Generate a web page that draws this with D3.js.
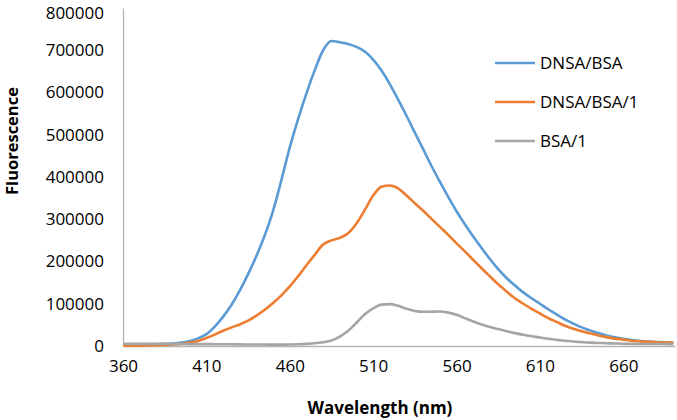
<!DOCTYPE html>
<html>
<head>
<meta charset="utf-8">
<script src="https://cdn.jsdelivr.net/npm/d3@7"></script>
<style>
  html, body { margin: 0; padding: 0; background: #fff; }
  svg { display: block; }
  text { font-family: "Open Sans", "Liberation Sans", sans-serif; fill: #000; }
</style>
</head>
<body>
<svg id="chart" width="677" height="420"></svg>
<script>
const wavelengths = [360,365,370,375,380,385,390,395,400,405,410,415,420,425,430,435,440,445,450,455,
  460,465,470,475,480,485,490,495,500,505,510,515,520,525,530,535,540,545,550,555,
  560,565,570,575,580,585,590,595,600,605,610,615,620,625,630,635,640,645,650,655,
  660,665,670,675,680,685,690];

const dnsaBsa = [4000,4000,4000,4000,4500,5000,6000,8000,12000,18000,28000,46000,69000,97000,131000,170000,213000,262000,320000,393000,
  470000,537000,598000,653000,700000,722000,719000,715000,708000,697000,678000,652000,620000,583000,545000,505000,466000,426000,389000,353000,
  319000,288000,259000,232000,206000,182000,161000,143000,127000,113000,100000,87000,75000,63000,53000,44000,37000,30500,25000,20500,
  17000,14200,12000,10500,9500,8500,7800];

const dnsaBsa1 = [1000,1000,1000,1500,2000,2500,3500,5000,8000,12000,19000,27000,36000,44000,51000,60000,72000,86000,102000,120000,
  141000,165000,191000,216000,240000,250000,256000,267000,290000,322000,356000,377000,380000,373000,356000,338000,320000,301000,282000,263000,
  243000,224000,204000,184000,165000,146000,129000,113000,100000,88000,77000,66000,57000,48000,41000,35000,30000,25000,21000,17500,
  15000,12500,11000,9800,8800,8200,7600];

const bsa1 = [5000,5000,5000,5000,5000,5000,5000,4800,4500,4500,4500,4200,4000,4000,3800,3600,3500,3400,3300,3300,
  3500,4000,5000,6500,9000,13000,22000,36000,55000,75000,89000,98000,99000,95000,88000,83000,81000,81000,81500,79000,
  74000,66000,58000,51000,45000,40000,35000,30500,26500,23000,20000,17000,14500,12500,10500,9200,8000,7200,6500,6000,
  5500,5100,4900,4700,4700,4600,4500];

const seriesNames = ["DNSA/BSA", "DNSA/BSA/1", "BSA/1"];
const seriesColors = ["#5b9bd5", "#ed7d31", "#a5a5a5"];
const xTickValues = [360,410,460,510,560,610,660];
const yTickValues = [0,100000,200000,300000,400000,500000,600000,700000,800000];

const svg = d3.select("#chart");
const x = d3.scaleLinear().domain([360, 691]).range([123, 675]);
const y = d3.scaleLinear().domain([0, 800000]).range([346, 8]);

// axes
const xAxis = svg.append("g").attr("transform", "translate(0,346)")
  .call(d3.axisBottom(x).tickValues(xTickValues).tickSize(0).tickPadding(14).tickFormat(d3.format("d")));
xAxis.select(".domain").attr("stroke", "#b4b4b4").attr("stroke-width", 1.3);
xAxis.selectAll("text").attr("font-size", 17).attr("font-family", "Open Sans").attr("fill", "#000");

const yAxis = svg.append("g").attr("transform", "translate(123,0)")
  .call(d3.axisLeft(y).tickValues(yTickValues).tickSize(0).tickPadding(19).tickFormat(d3.format("d")));
yAxis.select(".domain").attr("stroke", "#b4b4b4").attr("stroke-width", 1.3);
yAxis.selectAll("text").attr("font-size", 17).attr("font-family", "Open Sans").attr("fill", "#000");
// keep the top label fully inside the picture
yAxis.selectAll(".tick text").filter(d => d === 800000).attr("dy", "0.6em");

// lines
const allSeries = [dnsaBsa, dnsaBsa1, bsa1];
const line = d3.line().x((d, i) => x(wavelengths[i])).y(d => y(d)).curve(d3.curveMonotoneX);
allSeries.forEach((s, k) => {
  svg.append("path").datum(s)
    .attr("fill", "none")
    .attr("stroke", seriesColors[k])
    .attr("stroke-width", 2.6)
    .attr("stroke-linejoin", "round")
    .attr("d", line);
});

// axis titles
svg.append("text")
  .attr("x", 380).attr("y", 414)
  .attr("text-anchor", "middle")
  .attr("font-size", 17).attr("font-weight", "bold")
  .text("Wavelength (nm)");

svg.append("text")
  .attr("transform", "translate(18,141) rotate(-90)")
  .attr("text-anchor", "middle")
  .attr("font-size", 16.5).attr("font-weight", "bold")
  .text("Fluorescence");

// legend
const legend = svg.append("g");
seriesNames.forEach((name, k) => {
  const ly = 63 + k * 39;
  legend.append("line")
    .attr("x1", 495).attr("x2", 535).attr("y1", ly).attr("y2", ly)
    .attr("stroke", seriesColors[k]).attr("stroke-width", 2.6);
  legend.append("text")
    .attr("x", 540).attr("y", ly).attr("dy", "0.35em")
    .attr("font-size", 17)
    .text(name);
});
</script>
</body>
</html>
